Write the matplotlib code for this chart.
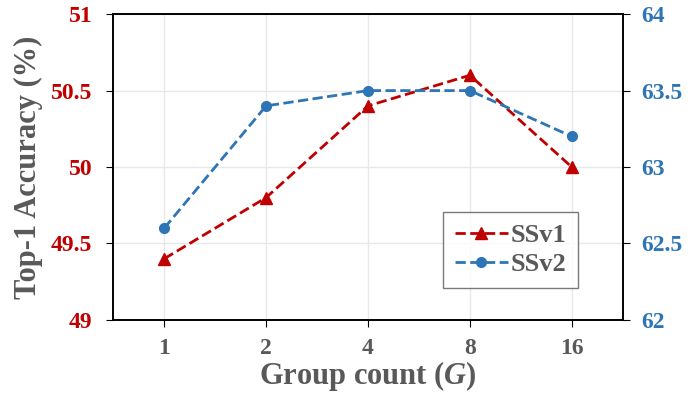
import numpy as np
import matplotlib.pyplot as plt

# data
groups = ["1", "2", "4", "8", "16"]
ssv1 = [49.4, 49.8, 50.4, 50.6, 50.0]
ssv2 = [62.6, 63.4, 63.5, 63.5, 63.2]

red = "#C00000"
blue = "#2E75B6"
grey = "#595959"

plt.rcParams["font.family"] = ["Liberation Serif", "DejaVu Serif"]
plt.rcParams["font.weight"] = "bold"
plt.rcParams["mathtext.fontset"] = "custom"
plt.rcParams["mathtext.it"] = "Liberation Serif:italic:bold"
plt.rcParams["mathtext.rm"] = "Liberation Serif:bold"

fig = plt.figure(figsize=(6.95, 3.93), dpi=100)
ax1 = fig.add_axes([0.163, 0.186, 0.733, 0.778])
x = np.arange(len(groups))

ax1.grid(True, color="#E8E8E8", linewidth=1)
ax1.set_axisbelow(True)
l1, = ax1.plot(x, ssv1, "--", color=red, marker="^", markersize=8, linewidth=2, label="SSv1")
ax1.set_ylim(49, 51)
ax1.set_yticks([49, 49.5, 50, 50.5, 51])
ax1.set_yticklabels(["49", "49.5", "50", "50.5", "51"])
ax1.tick_params(axis="y", labelcolor=red, labelsize=17, direction="out", length=5, pad=10)
ax1.set_xlim(-0.5, 4.5)
ax1.set_xticks(x)
ax1.set_xticklabels(groups)
ax1.tick_params(axis="x", labelcolor=grey, labelsize=17, direction="out", length=5, pad=8)
ax1.set_ylabel("Top-1 Accuracy (%)", color=grey, fontsize=22, fontweight="bold", labelpad=6)
ax1.set_xlabel("Group count ($G$)", color=grey, fontsize=22, fontweight="bold", labelpad=0)

ax2 = ax1.twinx()
l2, = ax2.plot(x, ssv2, "--", color=blue, marker="o", markersize=7, linewidth=2, label="SSv2")
ax2.set_ylim(62, 64)
ax2.set_yticks([62, 62.5, 63, 63.5, 64])
ax2.set_yticklabels(["62", "62.5", "63", "63.5", "64"])
ax2.tick_params(axis="y", labelcolor=blue, labelsize=17, direction="out", length=5, pad=8)

for ax in (ax1, ax2):
    for s in ax.spines.values():
        s.set_color("black")
        s.set_linewidth(1.2)

leg = ax1.legend(handles=[l1, l2], loc="lower left", bbox_to_anchor=(0.647, 0.105),
                 borderaxespad=0, fontsize=19, frameon=True, fancybox=False, handlelength=2.0,
                 labelcolor=grey, borderpad=0.45, handletextpad=0.1, labelspacing=0.2)
leg.get_frame().set_edgecolor(grey)
leg.get_frame().set_linewidth(1)

fig.savefig("out.png", dpi=100)
